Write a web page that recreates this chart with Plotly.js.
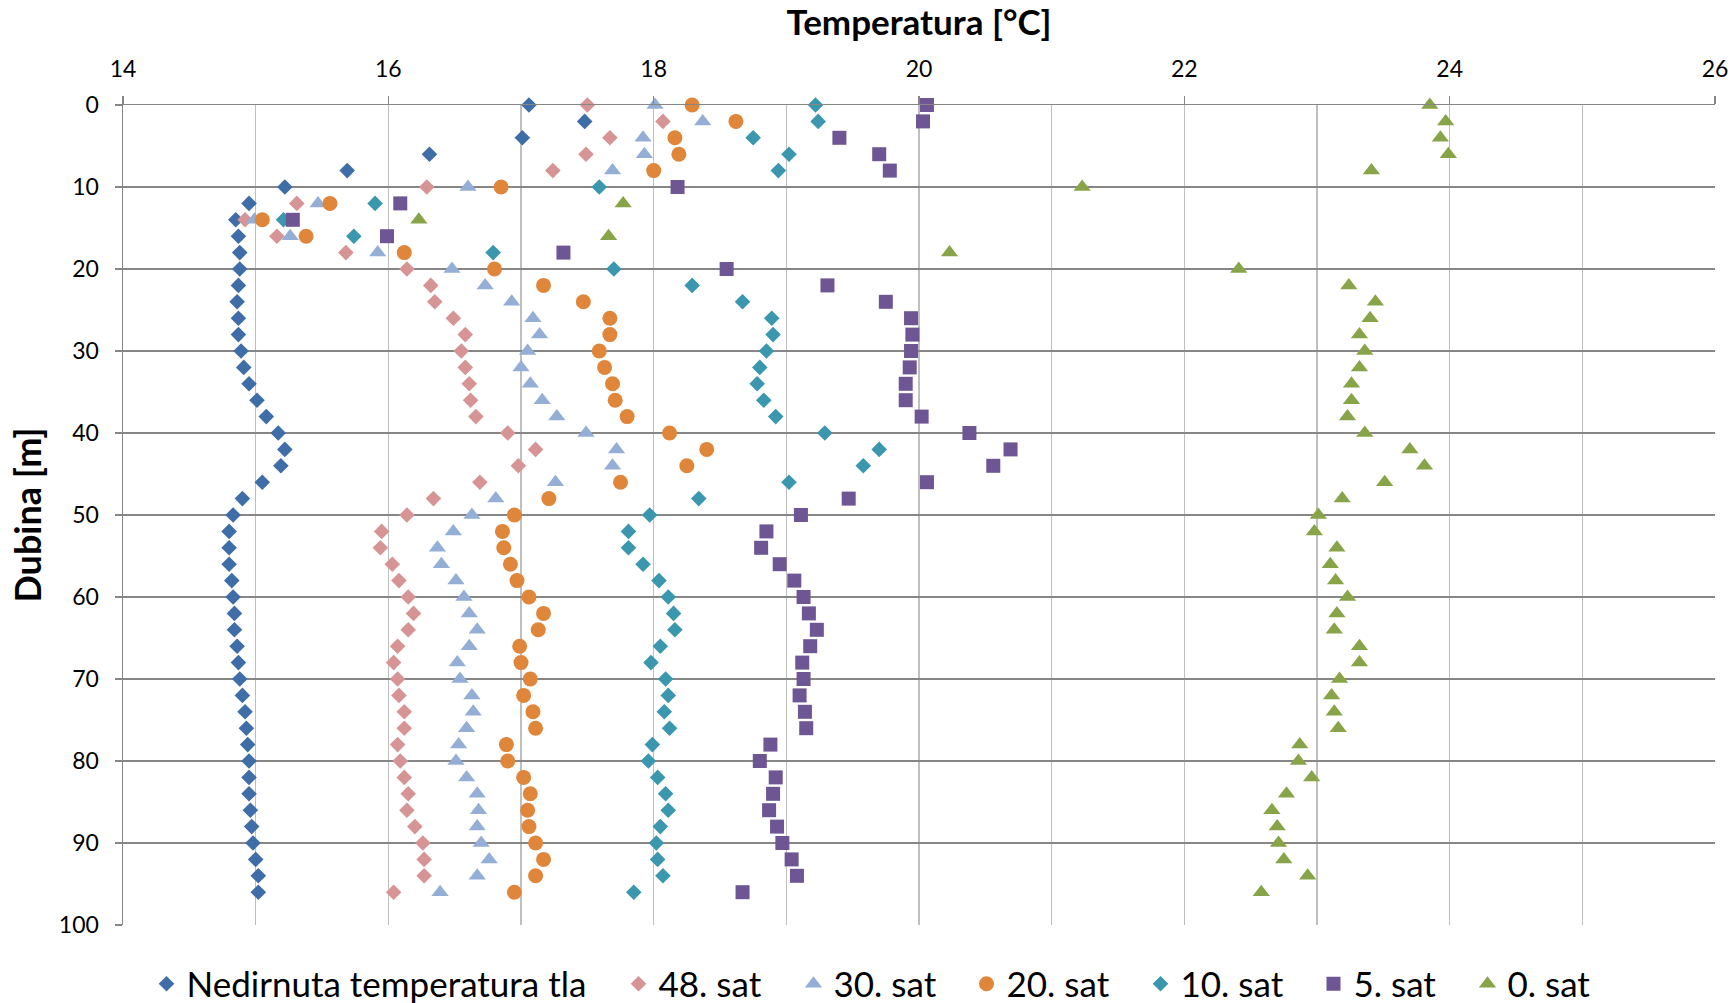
<!DOCTYPE html>
<html>
<head>
<meta charset="utf-8">
<script src="https://cdn.plot.ly/plotly-3.0.1.min.js"></script>
<style>
  html, body { margin: 0; padding: 0; background: #ffffff; }
  #chart { width: 1734px; height: 1003px; }
</style>
</head>
<body>
<div id="chart"></div>
<script>
// Depth [m]
const depths = [0,2,4,6,8,10,12,14,16,18,20,22,24,26,28,30,32,34,36,38,40,42,44,46,48,
                50,52,54,56,58,60,62,64,66,68,70,72,74,76,78,80,82,84,86,88,90,92,94,96];

// Temperatures [°C] per series
const nedirnuta = [17.06,17.48,17.01,16.31,15.69,15.22,14.95,14.85,14.87,14.88,14.88,14.87,14.86,14.87,14.87,14.89,14.91,14.95,15.01,15.08,15.17,15.22,15.19,15.05,14.90,
                   14.83,14.80,14.80,14.80,14.82,14.83,14.84,14.84,14.86,14.87,14.88,14.90,14.92,14.93,14.94,14.95,14.95,14.95,14.96,14.97,14.98,15.00,15.02,15.02];
const sat48 = [17.50,18.07,17.67,17.49,17.24,16.29,15.31,14.92,15.16,15.68,16.14,16.32,16.35,16.49,16.58,16.55,16.58,16.61,16.62,16.66,16.90,17.11,16.98,16.69,16.34,
               16.14,15.95,15.94,16.03,16.08,16.15,16.19,16.15,16.07,16.04,16.07,16.08,16.12,16.12,16.07,16.09,16.12,16.15,16.14,16.20,16.26,16.27,16.27,16.04];
const sat30 = [18.01,18.37,17.92,17.93,17.69,16.60,15.47,14.99,15.26,15.92,16.48,16.73,16.93,17.09,17.14,17.05,17.00,17.07,17.16,17.27,17.49,17.72,17.69,17.26,16.81,
               16.63,16.49,16.37,16.40,16.51,16.57,16.61,16.67,16.61,16.52,16.54,16.63,16.64,16.59,16.53,16.51,16.59,16.67,16.68,16.67,16.70,16.76,16.67,16.39];
const sat20 = [18.29,18.62,18.16,18.19,18.00,16.85,15.56,15.05,15.38,16.12,16.80,17.17,17.47,17.67,17.67,17.59,17.63,17.69,17.71,17.80,18.12,18.40,18.25,17.75,17.21,
               16.95,16.86,16.87,16.92,16.97,17.06,17.17,17.13,16.99,17.00,17.07,17.02,17.09,17.11,16.89,16.90,17.02,17.07,17.05,17.06,17.11,17.17,17.11,16.95];
const sat10 = [19.22,19.24,18.75,19.02,18.94,17.59,15.90,15.21,15.74,16.79,17.70,18.29,18.67,18.89,18.90,18.85,18.80,18.78,18.83,18.92,19.29,19.70,19.58,19.02,18.34,
               17.97,17.81,17.81,17.92,18.04,18.11,18.15,18.16,18.05,17.98,18.09,18.11,18.08,18.12,17.99,17.96,18.03,18.09,18.11,18.05,18.02,18.03,18.07,17.85];
const sat5 = [20.06,20.03,19.40,19.70,19.78,18.18,16.09,15.28,15.99,17.32,18.55,19.31,19.75,19.94,19.95,19.94,19.93,19.90,19.90,20.02,20.38,20.69,20.56,20.06,19.47,
              19.11,18.85,18.81,18.95,19.06,19.13,19.17,19.23,19.18,19.12,19.13,19.10,19.14,19.15,18.88,18.80,18.92,18.90,18.87,18.93,18.97,19.04,19.08,18.67];
const sat0 = [23.85,23.97,23.93,23.99,23.41,21.23,17.77,16.23,17.66,20.23,22.41,23.24,23.44,23.40,23.32,23.36,23.32,23.26,23.26,23.23,23.36,23.70,23.81,23.51,23.19,
              23.01,22.98,23.15,23.10,23.14,23.23,23.15,23.13,23.32,23.32,23.17,23.11,23.13,23.16,22.87,22.86,22.96,22.77,22.66,22.70,22.71,22.75,22.93,22.58];

const seriesNames = ['Nedirnuta temperatura tla','48. sat','30. sat','20. sat','10. sat','5. sat','0. sat'];
const xTickVals = [14,16,18,20,22,24,26];
const yTickVals = [0,10,20,30,40,50,60,70,80,90,100];

const seriesData = [nedirnuta, sat48, sat30, sat20, sat10, sat5, sat0];
const styles = [
  {symbol:'diamond', color:'#3F6DA7', size:12},
  {symbol:'diamond', color:'#D69594', size:12},
  {symbol:'triangle-up', color:'#95AED5', size:15},
  {symbol:'circle', color:'#E0863A', size:15},
  {symbol:'diamond', color:'#3A97AE', size:12},
  {symbol:'square', color:'#6E5593', size:14},
  {symbol:'triangle-up', color:'#87A548', size:15}
];
// legend entry positions (marker centre, px from left of page)
const legendMarkerX = [166, 638, 813, 986, 1160, 1333, 1487];
const legendIds = ['legend','legend2','legend3','legend4','legend5','legend6','legend7'];

const traces = seriesData.map((vals, i) => ({
  type: 'scatter',
  mode: 'markers',
  name: seriesNames[i],
  legend: legendIds[i],
  x: vals,
  y: depths,
  marker: {symbol: styles[i].symbol, color: styles[i].color, size: styles[i].size, line: {width: 0}},
  cliponaxis: false
}));

const layout = {
  width: 1734,
  height: 1003,
  paper_bgcolor: '#ffffff',
  plot_bgcolor: '#ffffff',
  margin: {l: 123, r: 19, t: 105, b: 78},
  font: {family: 'Lato, "Open Sans", sans-serif', color: '#000000'},
  showlegend: true,
  xaxis: {
    side: 'top',
    range: [14, 26],
    tickvals: xTickVals,
    ticktext: xTickVals.map(String),
    ticks: 'outside',
    ticklen: 8,
    tickcolor: '#868686',
    tickwidth: 1.5,
    tickfont: {family: 'Lato, sans-serif', size: 23, color: '#000000'},
    ticklabelstandoff: 9,
    showgrid: true,
    gridcolor: '#BFBFBF',
    gridwidth: 1.3,
    minor: {dtick: 1, tick0: 14, showgrid: true, gridcolor: '#BFBFBF', gridwidth: 1.3, ticks: ''},
    showline: true,
    linecolor: '#868686',
    linewidth: 1.5,
    zeroline: false,
    mirror: false,
    title: {text: 'Temperatura [°C]', font: {family: 'Lato, sans-serif', size: 35, weight: 'bold', color: '#000000'}, standoff: 12}
  },
  yaxis: {
    range: [100, 0],
    tickvals: yTickVals,
    ticks: 'outside',
    ticklen: 7,
    tickcolor: '#868686',
    tickwidth: 1.5,
    tickfont: {family: 'Lato, sans-serif', size: 23, color: '#000000'},
    ticklabelstandoff: 11,
    showgrid: true,
    gridcolor: '#868686',
    gridwidth: 1.5,
    showline: true,
    linecolor: '#868686',
    linewidth: 1.5,
    zeroline: false,
    title: {text: 'Dubina [m]', font: {family: 'Lato, sans-serif', size: 36, weight: 'bold', color: '#000000'}, standoff: 6}
  }
};

legendIds.forEach((id, i) => {
  layout[id] = {
    orientation: 'h',
    xref: 'container', yref: 'container',
    x: (legendMarkerX[i] - 19.5) / 1734, xanchor: 'left',
    y: 19 / 1003, yanchor: 'middle',
    bgcolor: 'rgba(0,0,0,0)',
    font: {family: 'Lato, sans-serif', size: 35, color: '#000000'},
    itemwidth: 30
  };
});

Plotly.newPlot('chart', traces, layout, {displayModeBar: false, staticPlot: true});
</script>
</body>
</html>
